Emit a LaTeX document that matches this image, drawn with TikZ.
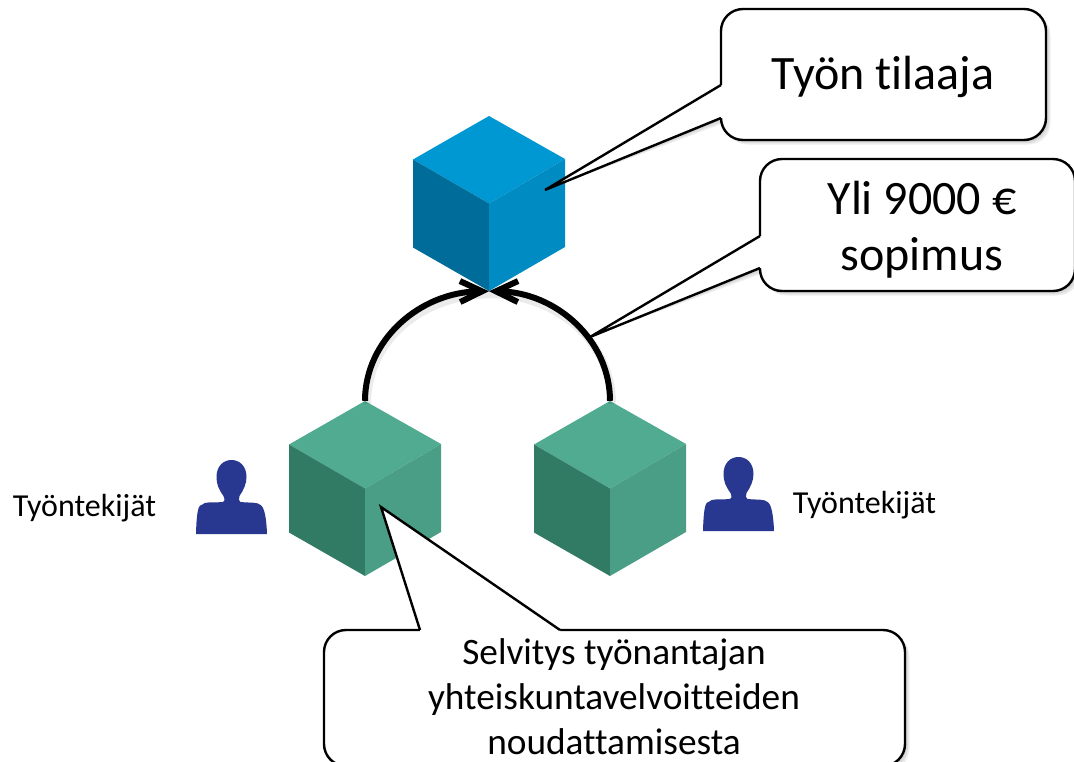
\documentclass[tikz,border=0pt]{standalone}
\usepackage{fontspec}
\setmainfont[Ligatures=NoCommon]{Carlito}
\usetikzlibrary{arrows.meta}
\definecolor{btop}{HTML}{0098D2}
\definecolor{bright}{HTML}{008CC2}
\definecolor{bleft}{HTML}{006C9A}
\definecolor{gtop}{HTML}{51AB91}
\definecolor{gright}{HTML}{4A9E85}
\definecolor{gleft}{HTML}{317A64}
\definecolor{personblue}{HTML}{28378F}
\tikzset{
  x=1pt,y=-1pt,
  cubebox/.style={inner sep=0pt,minimum width=152pt,minimum height=175pt},
  personbox/.style={inner sep=0pt,minimum width=71pt,minimum height=74pt},
  bubble/.style={draw=black,fill=white,line width=2.4pt,rounded corners=22pt},
  bubbleedge/.style={draw=black,line width=2.4pt,line join=miter},
  softshadow/.style={fill=black,opacity=0.07},
  label/.style={inner sep=0pt,align=center,text=black},
  link/.style={line width=6pt,-{Straight Barb[length=22pt,width=21pt,line width=6pt]}},
  linkshadow/.style={line width=8pt,draw=black,opacity=0.08},
  pics/cube/.style n args={3}{code={
    \fill[#1] (0,-87.5) -- (-76,-44) -- (0,0) -- (76,-44.5) -- cycle;
    \fill[#3] (-76,-44) -- (0,0) -- (0,87.5) -- (-76,44) -- cycle;
    \fill[#2] (76,-44.5) -- (0,0) -- (0,87.5) -- (76,43.5) -- cycle;
  }},
  pics/person/.style={code={
    \fill[personblue] (-35.5,37) .. controls (-35,20) and (-34,8) .. (-30,8)
      .. controls (-26,4) and (-20,6) .. (-9,5)
      .. controls (-6,4) and (-7,2) .. (-8,-1)
      .. controls (-13,-8) and (-15,-13) .. (-15,-20)
      .. controls (-15,-31) and (-8,-37) .. (0,-37)
      .. controls (8,-37) and (15,-31) .. (15,-20)
      .. controls (15,-13) and (12,-7) .. (8,-1)
      .. controls (7,2) and (7,4) .. (9,5)
      .. controls (20,6) and (26,5) .. (29,8)
      .. controls (33,10) and (35,22) .. (35.5,37) -- cycle;
  }}
}
\begin{document}
\begin{tikzpicture}
\useasboundingbox (0,0) rectangle (1074,761);
\clip (0,0) rectangle (1074,761);
\fill[white] (0,0) rectangle (1074,761);

% cubes
\pic at (489,203.5) {cube={btop}{bright}{bleft}};
\pic at (365,488.5) {cube={gtop}{gright}{gleft}};
\pic at (610,488.5) {cube={gtop}{gright}{gleft}};
\node[cubebox] (client) at (489,203.5) {};
\node[cubebox] (subA) at (365,488.5) {};
\node[cubebox] (subB) at (610,488.5) {};

% persons
\pic at (231.5,497) {person};
\pic at (738.5,494) {person};
\node[personbox] (personA) at (231.5,497) {};
\node[personbox] (personB) at (738.5,494) {};

% connector shadows
\draw[linkshadow] ([shift={(2,3)}]subA.north) .. controls (367,342) and (420,295) .. ([shift={(2,3)}]client.south);
\draw[linkshadow] ([shift={(2,3)}]subB.north) .. controls (612,342) and (557,295) .. ([shift={(2,3)}]client.south);
% connectors
\draw[link] (subA.north) .. controls (365,340) and (420,292) .. (client.south);
\draw[link] (subB.north) .. controls (610,340) and (556,292) .. (client.south);

% callouts
\coordinate (tipA) at (545,190);
\coordinate (tipB) at (590,337);
\coordinate (tipC) at (381,507);
\foreach \d in {1.5,3,4.5}{
  \fill[softshadow,rounded corners=22pt,shift={(\d,\d)}] (721,9) rectangle (1046,140);
  \fill[softshadow,shift={(\d,\d)}] (721,85) -- (tipA) -- (721,118) -- cycle;
  \fill[softshadow,rounded corners=22pt,shift={(\d,\d)}] (760,159) rectangle (1075,291);
  \fill[softshadow,shift={(\d,\d)}] (760,236) -- (tipB) -- (760,268) -- cycle;
  \fill[softshadow,rounded corners=22pt,shift={(\d,\d)}] (324,630) rectangle (905,766);
  \fill[softshadow,shift={(\d,\d)}] (420,630) -- (tipC) -- (560,630) -- cycle;
}
\path[bubble] (721,9) rectangle (1046,140);
\fill[white] (721,85) -- (tipA) -- (721,118) -- (725,118) -- (725,85) -- cycle;
\draw[bubbleedge] (721,85) -- (tipA) -- (721,118);
\path[bubble] (760,159) rectangle (1075,291);
\fill[white] (760,236) -- (tipB) -- (760,268) -- (764,268) -- (764,236) -- cycle;
\draw[bubbleedge] (760,236) -- (tipB) -- (760,268);
\path[bubble] (324,630) rectangle (905,766);
\fill[white] (420,630) -- (tipC) -- (560,630) -- (560,634) -- (420,634) -- cycle;
\draw[bubbleedge] (420,630) -- (tipC) -- (560,630);

% labels
\node[label,font=\fontsize{48}{58}\selectfont] (tilaaja) at (883,77) {Työn tilaaja};
\node[label,font=\fontsize{48}{56}\selectfont] (sopimus) at (922,230) {Yli 9000 €\\sopimus};
\node[label,font=\fontsize{37.3}{45}\selectfont] (selvitys) at (614,697) {Selvitys työnantajan\\yhteiskuntavelvoitteiden\\noudattamisesta};
\node[label,font=\fontsize{32}{38}\selectfont] (workersA) at (84.5,508) {Työntekijät};
\node[label,font=\fontsize{32}{38}\selectfont] (workersB) at (864.5,505) {Työntekijät};
\end{tikzpicture}
\end{document}
